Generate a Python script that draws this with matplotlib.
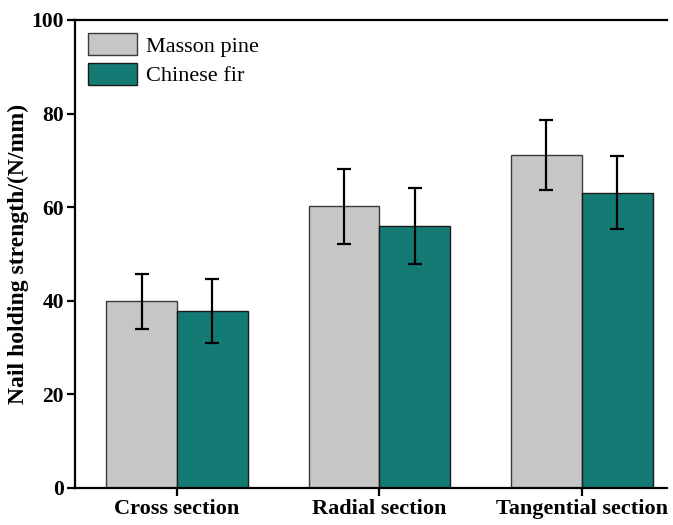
import numpy as np
import matplotlib.pyplot as plt

# nail holding strength by section, mean and standard deviation
sections = ["Cross section", "Radial section", "Tangential section"]
masson_mean = [39.9, 60.2, 71.2]
masson_sd = [5.9, 8.0, 7.5]
fir_mean = [37.8, 55.9, 63.1]
fir_sd = [6.9, 8.1, 7.8]

plt.rcParams['font.family'] = ['Liberation Serif', 'DejaVu Serif']

fig = plt.figure(figsize=(6.73, 5.25), dpi=100)
ax = fig.add_axes([0.1115, 0.0705, 0.8795, 0.8915])

x = np.arange(len(sections))
w = 0.35
err_kw = dict(ecolor="black", elinewidth=1.6, capsize=5, capthick=1.6)
ax.bar(x - w / 2, masson_mean, w, yerr=masson_sd, color="#c6c6c6",
       edgecolor="#3a3a3a", linewidth=1.0, label="Masson pine", error_kw=err_kw)
ax.bar(x + w / 2, fir_mean, w, yerr=fir_sd, color="#137a74",
       edgecolor="#1a1a1a", linewidth=1.0, label="Chinese fir", error_kw=err_kw)

ax.set_xlim(-0.504, 2.42)
ax.set_ylim(0, 100)
ax.set_yticks(range(0, 101, 20))
ax.set_xticks(x)
ax.set_xticklabels(sections, fontsize=16, fontweight="bold")
for lab in ax.get_yticklabels():
    lab.set_fontweight("bold")
    lab.set_fontsize(15.5)
ax.tick_params(axis="both", direction="out", width=1.6, length=6, pad=2)
ax.set_ylabel("Nail holding strength/(N/mm)", fontsize=17, fontweight="bold", labelpad=2)

for side in ["left", "bottom", "top"]:
    ax.spines[side].set_linewidth(1.6)
ax.spines["right"].set_visible(False)

ax.legend(loc="upper left", frameon=False, fontsize=16, handlelength=2.2,
          handleheight=1.1, handletextpad=0.4, labelspacing=0.3,
          borderaxespad=0.2, bbox_to_anchor=(0.0, 1.0))

fig.savefig("out.png", dpi=100)
